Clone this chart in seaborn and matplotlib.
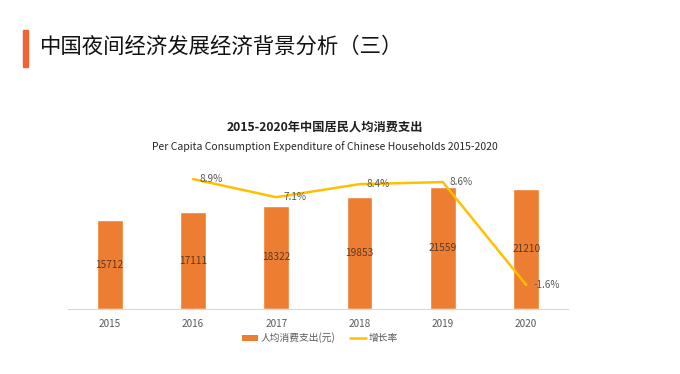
import numpy as np
import pandas as pd
import matplotlib
matplotlib.use("Agg")
import matplotlib.pyplot as plt
from matplotlib.patches import Patch
from matplotlib.lines import Line2D
import seaborn as sns

years = ["2015", "2016", "2017", "2018", "2019", "2020"]
spending = [15712, 17111, 18322, 19853, 21559, 21210]
growth = [np.nan, 8.9, 7.1, 8.4, 8.6, -1.6]

bar_color = "#ED7D31"
line_color = "#FFC000"

sns.set_theme(style="white")
plt.rcParams["font.family"] = ["Noto Sans CJK SC", "DejaVu Sans"]

df = pd.DataFrame({"year": years, "spending": spending, "growth": growth})
df["pos"] = np.arange(len(df))

fig = plt.figure(figsize=(6.8, 3.74), dpi=100)
ax = fig.add_axes([0.1, 0.1738, 0.735, 0.377])

sns.barplot(data=df, x="year", y="spending", color=bar_color, width=0.31,
            saturation=1, ax=ax)
ax.set_ylim(0, 25000)
ax.set_xlim(-0.5, len(years) - 0.5)
for i, v in enumerate(spending):
    ax.text(i, v / 2, str(v), ha="center", va="center", fontsize=7.3, color="#5a3a22")

ax2 = ax.twinx()
line_df = df.dropna(subset=["growth"])
sns.lineplot(data=line_df, x="pos", y="growth", color=line_color, linewidth=1.8, ax=ax2)
ax2.set_ylim(-4, 10)
for p, g in zip(line_df["pos"], line_df["growth"]):
    ax2.annotate(f"{g:.1f}%", (p, g), xytext=(5, 0), textcoords="offset points",
                 ha="left", va="center", fontsize=7.2, color="#595959")

for a in (ax, ax2):
    a.set_xlabel("")
    a.set_ylabel("")
    a.set_yticks([])
    for s in a.spines.values():
        s.set_visible(False)
ax.spines["bottom"].set_visible(True)
ax.spines["bottom"].set_color("#d9d9d9")
ax.spines["bottom"].set_linewidth(0.8)
ax.tick_params(axis="x", length=0, labelsize=7.2, labelcolor="#595959", pad=7)

handles = [Patch(facecolor=bar_color, edgecolor="none"),
           Line2D([0], [0], color=line_color, linewidth=1.8)]
fig.legend(handles, ["人均消费支出(元)", "增长率"], loc="center",
           bbox_to_anchor=(320 / 680, 1 - 338 / 374), ncol=2, frameon=False,
           fontsize=7, labelcolor="#595959", handlelength=1.6, handleheight=0.6,
           columnspacing=1.5, handletextpad=0.3)

# page heading
fig.add_artist(plt.Rectangle((23 / 680, 1 - 67 / 374), 5 / 680, 37 / 374,
                             transform=fig.transFigure, color="#EE6533"))
fig.text(40 / 680, 1 - 47 / 374, "中国夜间经济发展经济背景分析（三）", fontsize=15.4,
         color="#111111", va="center", ha="left")

fig.text(325 / 680, 1 - 127 / 374, "2015-2020年中国居民人均消费支出", fontsize=8.8,
         fontweight="bold", color="#1f1f1f", ha="center", va="center")
fig.text(325 / 680, 1 - 147 / 374,
         "Per Capita Consumption Expenditure of Chinese Households 2015-2020",
         fontsize=7.5, color="#262626", ha="center", va="center")

fig.savefig("out.png", dpi=100)
